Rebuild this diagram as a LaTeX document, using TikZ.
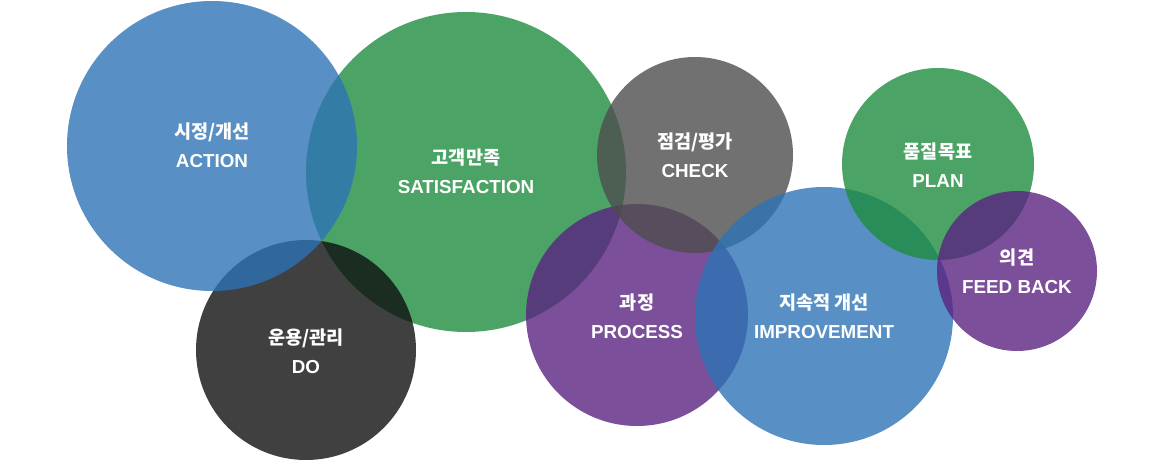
\documentclass[tikz,border=0pt]{standalone}
\usepackage{fontspec}
\setmainfont{Liberation Sans}
\newfontfamily\krfont{Noto Sans CJK KR}
\newcommand{\kr}[1]{{\krfont\fontsize{18.6}{29}\selectfont #1}}
\definecolor{cblue}{RGB}{46,115,181}
\definecolor{cgreen}{RGB}{30,141,64}
\definecolor{cdark}{RGB}{16,16,16}
\definecolor{cgray}{RGB}{78,78,78}
\definecolor{cpurple}{RGB}{90,35,128}
\tikzset{
  bubble/.style={fill opacity=0.8},
  lbl/.style={text=white, align=center, font=\bfseries\fontsize{18.8}{29}\selectfont, inner sep=0pt}
}
\begin{document}
\begin{tikzpicture}[x=1pt,y=-1pt]
\useasboundingbox (0,0) rectangle (1164,460);
\fill[bubble, cgreen] (466,172) circle (160);
\fill[bubble, cdark] (306,350) circle (110);
\fill[bubble, cblue] (212,146) circle (145);
\fill[bubble, cpurple] (637,315) circle (111);
\fill[bubble, cgray] (695,155) circle (98);
\fill[bubble, cblue] (824,316) circle (129);
\fill[bubble, cgreen] (938,164) circle (96);
\fill[bubble, cpurple] (1017,271) circle (80);
\node[lbl] (action) at (212,145) {\kr{시정/개선}\\ACTION};
\node[lbl] (satis) at (466,171) {\kr{고객만족}\\SATISFACTION};
\node[lbl] (do) at (306,351) {\kr{운용/관리}\\DO};
\node[lbl] (check) at (695,155) {\kr{점검/평가}\\CHECK};
\node[lbl] (process) at (637,316) {\kr{과정}\\PROCESS};
\node[lbl] (improve) at (824,316) {\kr{지속적 개선}\\IMPROVEMENT};
\node[lbl] (plan) at (938,165) {\kr{품질목표}\\PLAN};
\node[lbl] (feed) at (1017,271) {\kr{의견}\\FEED BACK};
\end{tikzpicture}
\end{document}
